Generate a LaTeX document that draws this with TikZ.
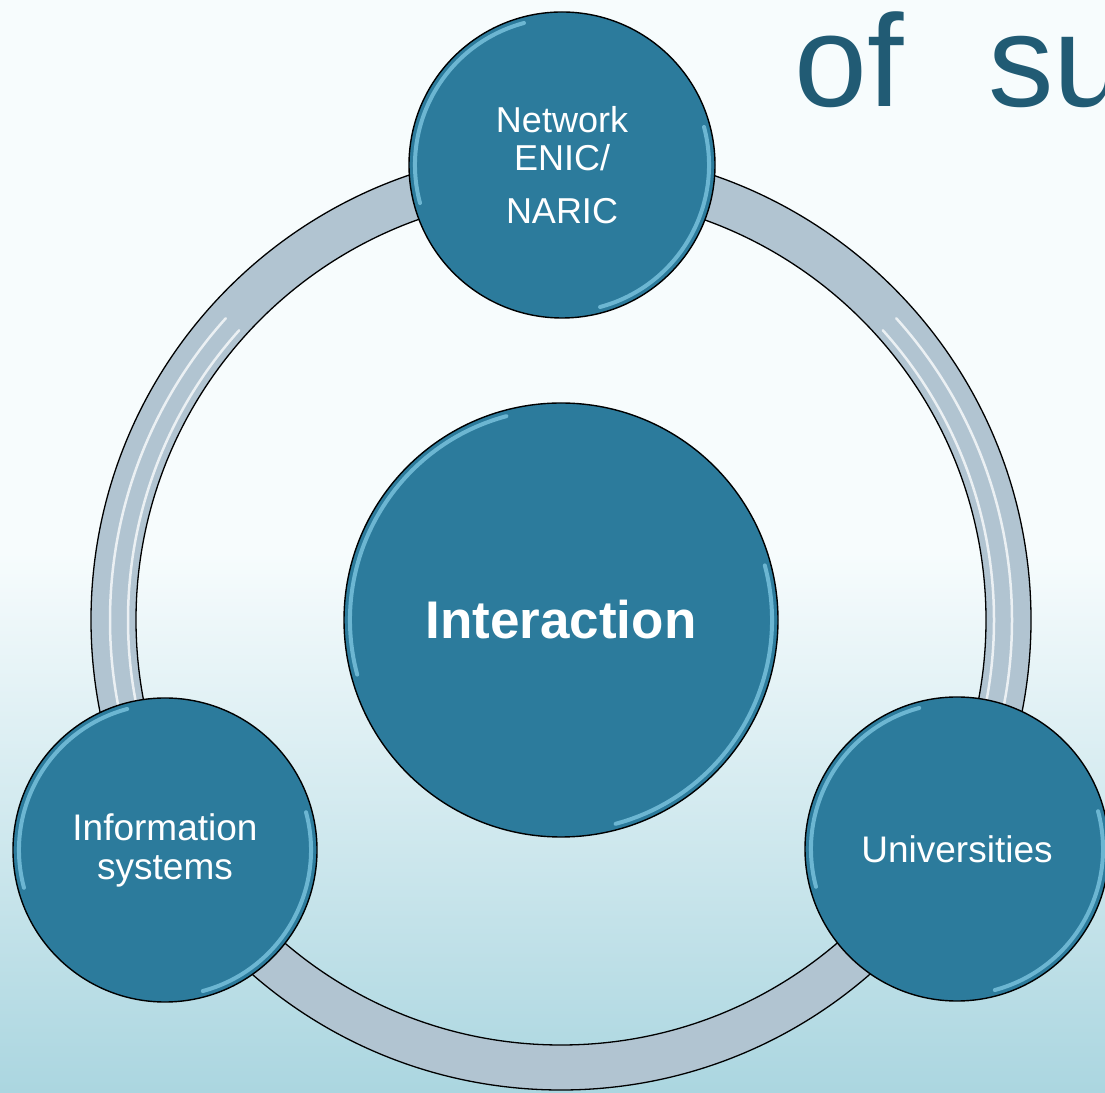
\documentclass[tikz,border=0pt]{standalone}
\usepackage{fontspec}
\setmainfont{Liberation Sans}
\definecolor{bubblefill}{HTML}{2C7B9C}
\definecolor{glowcol}{HTML}{8FD6F0}
\definecolor{ringfill}{HTML}{B1C4D1}
\definecolor{bgtop}{HTML}{F7FCFD}
\definecolor{bgbot}{HTML}{ABD6E0}
\definecolor{titlecol}{HTML}{215B74}
\begin{document}
\begin{tikzpicture}[x=1pt,y=1pt,
  bubble/.style={circle,draw=black,line width=1.4pt,fill=bubblefill,text=white,
    align=center,inner sep=0pt,minimum size=#1},
  glow/.style={line width=4pt,color=glowcol,opacity=.65,line cap=round},
  shine/.style={line width=2.5pt,white,opacity=.75,line cap=round}]
\useasboundingbox (0,0) rectangle (1105,1092);
\clip (0,0) rectangle (1105,1092);
% background
\fill[bgtop] (0,0) rectangle (1105,1092);
\shade[top color=bgtop,bottom color=bgbot] (0,0) rectangle (1105,540);
% ring
\coordinate (o) at (561,472);
\draw[line width=1.3pt,fill=ringfill,even odd rule] (o) circle (470) (o) circle (425);
\foreach \r in {451,433}{ % white streaks left and right
\draw[shine] ([shift={(138:\r)}]o) arc[start angle=138,end angle=205,radius=\r];
\draw[shine] ([shift={(-25:\r)}]o) arc[start angle=-25,end angle=42,radius=\r];}
% bubbles
\node[bubble=434pt,font=\fontsize{53}{60}\selectfont\bfseries] (hub) at (o) {Interaction};
\node[bubble=306pt,font=\fontsize{36}{38}\selectfont] (enic) at (562,927) {Network\\ENIC/\\[15pt]NARIC};
\node[bubble=304pt,font=\fontsize{37}{39}\selectfont] (infsys) at (165,242) {Information\\systems};
\node[bubble=304pt,font=\fontsize{37}{39}\selectfont] (univ) at (957,243) {Universities};
\foreach \n/\r in {hub/217,enic/153,infsys/152,univ/152}{
\draw[glow] ([shift={(105:\r-6)}]\n.center) arc[start angle=105,end angle=195,radius=\r-6];
\draw[glow] ([shift={(-75:\r-6)}]\n.center) arc[start angle=-75,end angle=15,radius=\r-6];}
% title fragment
\node[anchor=base west,text=titlecol,font=\fontsize{131}{131}\selectfont,inner sep=0pt] (ttl) at (794,985) {of\hspace{85pt}su};
\end{tikzpicture}
\end{document}
